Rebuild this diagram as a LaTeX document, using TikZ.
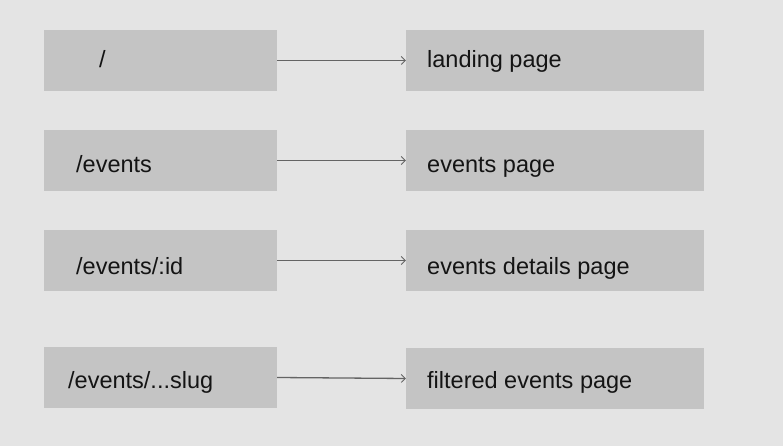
\documentclass[tikz,border=0pt]{standalone}
\usepackage{fontspec}
\setmainfont{Liberation Sans}
\usepackage{xcolor}
\usepackage{tikz}
\usetikzlibrary{arrows.meta,positioning}
\definecolor{canvasgray}{RGB}{228,228,228}
\definecolor{boxgray}{RGB}{196,196,196}
\definecolor{linegray}{RGB}{100,100,100}
\definecolor{inkblack}{RGB}{20,20,20}

\begin{document}
\begin{tikzpicture}[
    x=1pt, y=1pt,
    route/.style={fill=boxgray, minimum width=233pt, minimum height=61pt, inner sep=0pt},
    page/.style={fill=boxgray, minimum width=298pt, minimum height=61pt, inner sep=0pt},
    txt/.style={anchor=base west, inner sep=0pt, text=inkblack, font=\fontsize{23.5}{27}\selectfont},
    flow/.style={draw=linegray, line width=1.3pt, -{Straight Barb[length=4pt,width=8pt,line width=0.8pt]}}
]
\fill[canvasgray] (0,0) rectangle (783,446);
\useasboundingbox (0,0) rectangle (783,446);

% left column: routes
\node[route] (r1) at (160.5,385.5) {};
\node[route] (r2) at (160.5,285.5) {};
\node[route] (r3) at (160.5,185.5) {};
\node[route] (r4) at (160.5,68.5) {};

% right column: pages
\node[page] (p1) at (555,385.5) {};
\node[page] (p2) at (555,285.5) {};
\node[page] (p3) at (555,185.5) {};
\node[page] (p4) at (555,67.5) {};

% texts
\node[txt] (t1) at (99,378) {/};
\node[txt] (t2) at (76,273) {/events};
\node[txt] (t3) at (76,171) {/events/:id};
\node[txt] (t4) at (68,57.5) {/events/...slug};

\node[txt] (s1) at (427,378) {landing page};
\node[txt] (s2) at (427,273) {events page};
\node[txt] (s3) at (427,171) {events details page};
\node[txt] (s4) at (427,57) {filtered events page};

\draw[flow] (r1.east) -- (p1.west);
\draw[flow] (r2.east) -- (p2.west);
\draw[flow] (r3.east) -- (p3.west);
\draw[flow] (r4.east) -- (p4.west);
\end{tikzpicture}
\end{document}
